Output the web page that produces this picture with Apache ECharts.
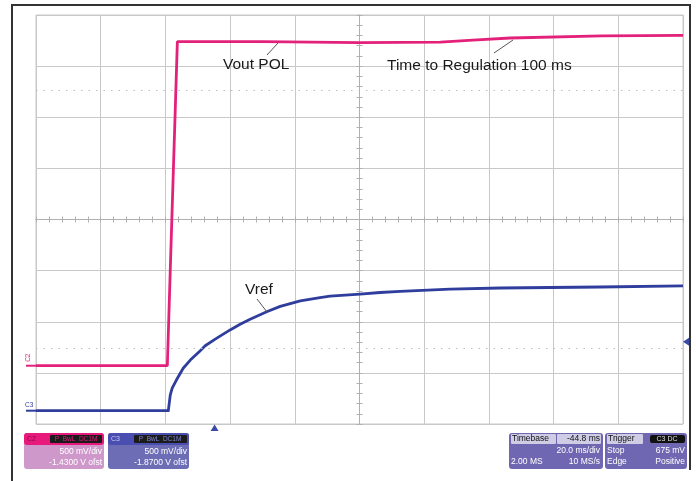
<!DOCTYPE html>
<html>
<head>
<meta charset="utf-8">
<script src="https://cdn.jsdelivr.net/npm/echarts@6/dist/echarts.min.js"></script>
<style>
html, body { margin: 0; padding: 0; background: #fff; }
#chart { width: 696px; height: 481px; }
</style>
</head>
<body>
<div id="chart"></div>
<script>
// scope settings
const timePerDiv = 20;       // ms/div
const triggerDelay = 44.8;   // trigger point sits 44.8 ms left of centre
const voltsPerDiv = 0.5;
const c2Offset = -1.43;
const c3Offset = -1.87;
const triggerLevel = 0.675;  // V on C3

// C2 - Vout POL (ms after trigger, volts)
const voutTime = [-55.2, -14.6, -13.7, -11.5, 14.8, 44.8, 69.8, 79.8, 91.4, 119.8, 144.8];
const voutVolts = [0.0, 0.0, 0.93, 3.17, 3.17, 3.16, 3.165, 3.185, 3.205, 3.225, 3.23];

// C3 - Vref (ms after trigger, volts)
const vrefTime = [-55.2, -14.3, -13.7, -13.1, -11.8, -9.7, -7.5, -4.5, -2.9, 0.2, 4.8, 7.9, 11.0, 16.3, 20.3, 26.5, 32.6, 35.7, 45.0, 51.2, 57.4, 72.8, 88.3, 103.7, 119.2, 144.8];
const vrefVolts = [0.0, 0.0, 0.153, 0.22, 0.30, 0.415, 0.495, 0.585, 0.635, 0.70, 0.79, 0.845, 0.895, 0.97, 1.02, 1.075, 1.107, 1.12, 1.141, 1.156, 1.168, 1.19, 1.2, 1.205, 1.21, 1.22];

// dotted cursor levels (divisions from centre)
const cursorLevels = [2.53, -2.52];

const pink = "#e3217b";
const blue = "#2f3d9c";
const gridColor = "#c8c8c8";
const tickColor = "#b0b0b0";

function toDiv(v, ofs) {
    return (v + ofs) / voltsPerDiv;
}

const voutData = voutTime.map((t, i) => [t - triggerDelay, toDiv(voutVolts[i], c2Offset)]);
const vrefData = vrefTime.map((t, i) => [t - triggerDelay, toDiv(vrefVolts[i], c3Offset)]);

function axis(extra, half) {
    return Object.assign({
        type: "value",
        min: -half,
        max: half,
        interval: half / (half === 100 ? 5 : 4),
        axisLabel: {show: false},
        axisLine: {show: true, onZero: true, lineStyle: {color: tickColor, width: 1}},
        axisTick: {show: true, length: 3, lineStyle: {color: tickColor}},
        minorTick: {show: true, splitNumber: 5, length: 3, lineStyle: {color: tickColor}},
        splitLine: {show: false}
    }, extra);
}

const chart = echarts.init(document.getElementById("chart"), null, {renderer: "canvas"});

chart.setOption({
    animation: false,
    backgroundColor: "#fff",
    grid: {
        left: 36, top: 15, right: 13, bottom: 57,
        show: true, borderColor: gridColor, borderWidth: 1,
        containLabel: false, outerBoundsMode: "none"
    },
    xAxis: [
        axis({position: "bottom", splitLine: {show: true, lineStyle: {color: gridColor, width: 1}}}, 100),
        axis({position: "top"}, 100)
    ],
    yAxis: [
        axis({position: "left", splitLine: {show: true, lineStyle: {color: gridColor, width: 1}}}, 4),
        axis({position: "right"}, 4)
    ],
    series: [
        {
            name: "Vout POL",
            type: "line",
            data: voutData,
            symbol: "none",
            lineStyle: {color: pink, width: 2.8},
            z: 4,
            markLine: {
                silent: true,
                symbol: "none",
                label: {show: false},
                lineStyle: {color: "#bdbdbd", type: [1.5, 6], width: 1.2},
                data: cursorLevels.map(v => ({yAxis: v}))
            }
        },
        {
            name: "Vref",
            type: "line",
            data: vrefData,
            symbol: "none",
            lineStyle: {color: blue, width: 2.8, join: "round"},
            z: 4
        }
    ]
});

// markers that hang off the grid, placed from the scope values
const trigX = chart.convertToPixel({xAxisIndex: 0}, 0 - triggerDelay);
const trigY = chart.convertToPixel({yAxisIndex: 0}, toDiv(triggerLevel, c3Offset));
const c2Y = chart.convertToPixel({yAxisIndex: 0}, toDiv(0, c2Offset));
const c3Y = chart.convertToPixel({yAxisIndex: 0}, toDiv(0, c3Offset));

const font = "Liberation Sans, Arial, sans-serif";

function txt(text, x, y, size, color, align) {
    return {
        type: "text",
        style: {
            text: text, x: x, y: y, fill: color,
            font: size + "px " + font,
            align: align || "left", verticalAlign: "middle",
            textAlign: align || "left", textVerticalAlign: "middle"
        },
        z: 20
    };
}

function rect(x, y, w, h, fill, r) {
    return {type: "rect", shape: {x: x, y: y, width: w, height: h, r: r || 0}, style: {fill: fill}, z: 15};
}

function seg(x1, y1, x2, y2, color, w) {
    return {type: "line", shape: {x1: x1, y1: y1, x2: x2, y2: y2}, style: {stroke: color, lineWidth: w || 1}, z: 20};
}

const c2Label = txt("C2", 0, 0, 6.5, pink, "center");
c2Label.x = 28;
c2Label.y = c2Y - 8;
c2Label.rotation = Math.PI / 2;

const graphic = [
    // outer frame
    seg(12, 5, 12, 481, "#333", 2),
    seg(11, 5, 691, 5, "#333", 2),
    seg(690, 5, 690, 470, "#333", 2),

    // annotations
    txt("Vout POL", 223, 65, 15.5, "#1a1a1a"),
    seg(267, 55, 278, 43, "#555", 1),
    txt("Time to Regulation 100 ms", 387, 66, 15.5, "#1a1a1a"),
    seg(494, 53, 513, 40, "#555", 1),
    txt("Vref", 245, 290, 15.5, "#1a1a1a"),
    seg(257, 299, 267, 312, "#555", 1),

    // channel ground markers
    seg(26, c2Y, 36, c2Y, pink, 2),
    seg(26, c3Y, 36, c3Y, blue, 2),
    c2Label,
    txt("C3", 25, c3Y - 6, 6.5, blue, "left"),

    // trigger position / level
    {type: "polygon", shape: {points: [[trigX, 424.5], [trigX - 4, 431], [trigX + 4, 431]]}, style: {fill: "#3b4aa6"}, z: 20},
    {type: "polygon", shape: {points: [[683, trigY], [689, trigY - 4], [689, trigY + 4]]}, style: {fill: "#3b4aa6"}, z: 20},

    // C2 box
    rect(24, 433, 80, 36, "#cf98cb", 3),
    rect(24, 433, 80, 12, "#e8197c", 3),
    txt("C2", 27, 439, 7, "#8a0c45"),
    rect(50, 435, 52, 8, "#1b1b1b", 1),
    txt("P  BwL  DC1M", 76, 439, 6.5, "#e8197c", "center"),
    txt("500 mV/div", 102, 452, 8.5, "#fff", "right"),
    txt("-1.4300 V ofst", 102, 463, 8.5, "#fff", "right"),

    // C3 box
    rect(108, 433, 81, 36, "#6d6db6", 3),
    rect(108, 433, 81, 12, "#4a4eb0", 3),
    txt("C3", 111, 439, 7, "#c9c9ef"),
    rect(134, 435, 53, 8, "#1b1b1b", 1),
    txt("P  BwL  DC1M", 160, 439, 6.5, "#7f86d8", "center"),
    txt("500 mV/div", 187, 452, 8.5, "#fff", "right"),
    txt("-1.8700 V ofst", 187, 463, 8.5, "#fff", "right"),

    // Timebase box
    rect(509, 433, 94, 36, "#6f67b1", 3),
    rect(511, 434, 45, 10, "#cfcce6", 1),
    rect(557, 434, 44, 10, "#cfcce6", 1),
    txt("Timebase", 512, 439, 8.5, "#111"),
    txt("-44.8 ms", 600, 439, 8.5, "#111", "right"),
    txt("20.0 ms/div", 600, 451, 8.5, "#fff", "right"),
    txt("2.00 MS", 511, 462, 8.5, "#fff"),
    txt("10 MS/s", 600, 462, 8.5, "#fff", "right"),

    // Trigger box
    rect(605, 433, 82, 36, "#6f67b1", 3),
    rect(607, 434, 36, 10, "#cfcce6", 1),
    txt("Trigger", 608, 439, 8.5, "#111"),
    rect(650, 435, 35, 8, "#111", 2),
    txt("C3 DC", 667, 439, 7, "#ddd", "center"),
    txt("Stop", 607, 451, 8.5, "#fff"),
    txt("675 mV", 685, 451, 8.5, "#fff", "right"),
    txt("Edge", 607, 462, 8.5, "#fff"),
    txt("Positive", 685, 462, 8.5, "#fff", "right")
];

chart.setOption({graphic: graphic});
</script>
</body>
</html>
